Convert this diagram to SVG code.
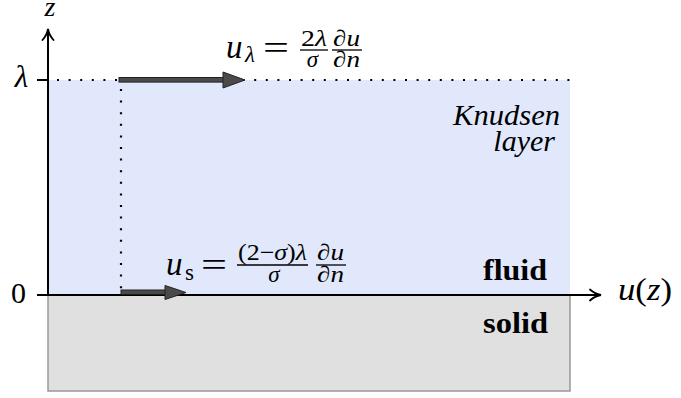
<svg xmlns="http://www.w3.org/2000/svg" width="681" height="398" viewBox="0 0 681 398">
<style>
.m{font-family:"Liberation Serif","Times New Roman",serif;fill:#000}
.i{font-style:italic}
.b{font-weight:bold}
.ax{stroke:#000;stroke-width:2;fill:none}
.dot{stroke:#000;stroke-width:2.2;stroke-dasharray:2 9.6;fill:none}
.shaft{fill:#4a4a4a;stroke:#222;stroke-width:1}
.bar{stroke:#000;stroke-width:1.3}
.big{font-size:33px}
.sc{font-size:23px}
</style>
<defs>
<marker id="to" viewBox="0 0 14 14" refX="12" refY="7" markerWidth="14" markerHeight="14" markerUnits="userSpaceOnUse" orient="auto">
<path d="M1,1.5 Q6,6 12,7 Q6,8 1,12.5" fill="none" stroke="#000" stroke-width="1.8" stroke-linecap="round"/>
</marker>
</defs>
<g id="fluid">
<rect x="48" y="80" width="522" height="215" fill="#e1e8fb"/>
<text class="m i" x="453" y="125" font-size="30" textLength="107" lengthAdjust="spacingAndGlyphs">Knudsen</text>
<text class="m i" x="555" y="151" font-size="30" text-anchor="end">layer</text>
<text class="m b" x="483" y="280" font-size="30" textLength="64" lengthAdjust="spacingAndGlyphs">fluid</text>
</g>
<g id="solid">
<rect x="48" y="295" width="522" height="96" fill="#e0e0e0" stroke="#999" stroke-width="1.5"/>
<text class="m b" x="483" y="333" font-size="30" textLength="65" lengthAdjust="spacingAndGlyphs">solid</text>
</g>
<g id="connectors">
<line class="dot" x1="57" y1="80" x2="570" y2="80"/>
<line class="dot" x1="121" y1="89" x2="121" y2="295"/>
<line class="ax" x1="48" y1="295" x2="48" y2="29" marker-end="url(#to)"/>
<line class="ax" x1="37" y1="295" x2="601" y2="295" marker-end="url(#to)"/>
<line class="ax" x1="37" y1="80" x2="48" y2="80"/>
</g>
<g id="slip-lambda">
<rect class="shaft" x="119" y="77.5" width="106" height="4.6"/>
<polygon points="223,72 245,80 223,88" fill="#4a4a4a" stroke="#222" stroke-width="1"/>
<text class="m i big" x="226" y="58">u</text>
<text class="m i sc" x="245" y="62">λ</text>
<text class="m big" x="263" y="58.5" textLength="26" lengthAdjust="spacingAndGlyphs">=</text>
<text class="m sc" x="301" y="46" textLength="26" lengthAdjust="spacingAndGlyphs">2<tspan class="i">λ</tspan></text>
<line class="bar" x1="300" y1="50" x2="328" y2="50"/>
<text class="m i sc" x="312.5" y="67" text-anchor="middle">σ</text>
<text class="m i sc" x="333" y="46" textLength="27" lengthAdjust="spacingAndGlyphs">∂u</text>
<line class="bar" x1="332" y1="50" x2="362" y2="50"/>
<text class="m i sc" x="333" y="67" textLength="27" lengthAdjust="spacingAndGlyphs">∂n</text>
</g>
<g id="slip-s">
<rect class="shaft" x="121" y="290" width="46" height="4.4"/>
<polygon points="165,285.5 186,292.5 165,299.5" fill="#4a4a4a" stroke="#222" stroke-width="1"/>
<text class="m i big" x="166" y="275">u</text>
<text class="m sc" x="185" y="280">s</text>
<text class="m big" x="201" y="275.5" textLength="26" lengthAdjust="spacingAndGlyphs">=</text>
<text class="m sc" x="238" y="260" textLength="69" lengthAdjust="spacingAndGlyphs">(2−<tspan class="i">σ</tspan>)<tspan class="i">λ</tspan></text>
<line class="bar" x1="237" y1="265" x2="308" y2="265"/>
<text class="m i sc" x="274" y="282" text-anchor="middle">σ</text>
<text class="m i sc" x="317" y="260" textLength="27" lengthAdjust="spacingAndGlyphs">∂u</text>
<line class="bar" x1="316" y1="265" x2="346" y2="265"/>
<text class="m i sc" x="317" y="282" textLength="27" lengthAdjust="spacingAndGlyphs">∂n</text>
</g>
<g id="labels">
<text class="m i" x="50" y="16" font-size="28" text-anchor="middle">z</text>
<text class="m i" x="21.5" y="87" font-size="31" text-anchor="middle">λ</text>
<text class="m" x="18.5" y="303" font-size="30" text-anchor="middle">0</text>
<text class="m" x="618" y="300" font-size="31" textLength="54" lengthAdjust="spacingAndGlyphs"><tspan class="i">u</tspan>(<tspan class="i">z</tspan>)</text>
</g>
</svg>
